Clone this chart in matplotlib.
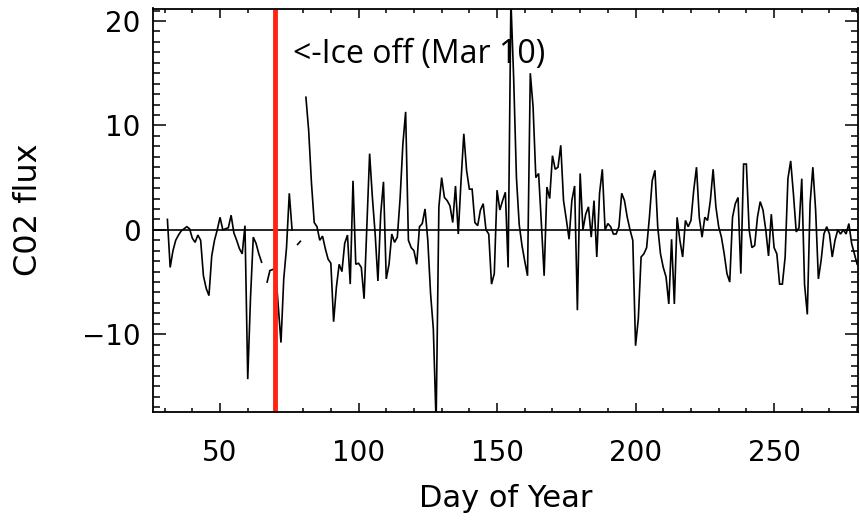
import numpy as np
import matplotlib
matplotlib.use("Agg")
import matplotlib.pyplot as plt
from matplotlib.ticker import MultipleLocator

nan = np.nan
days = np.arange(31, 281)

flux_a = [1.0, -3.6, -2.0, -1.0, -0.5, -0.1, 0.1, 0.3, 0.1, -0.8,
          -1.2, -0.5, -1.0, -4.4, -5.6, -6.3, -2.5, -1.0, 0.0, 1.2,
          0.0, 0.1, 0.2, 1.4, -0.3, -1.0, -1.8, -2.3, 0.4, -14.3,
          -6.5, -0.7, -1.3, -2.3, -3.1, nan, -5.0, -3.9, -3.8, -3.7,
          -7.3, -10.8, -4.7, -1.7, 3.5, 0.0, nan, -1.4, -1.1, nan]
flux_b = [12.7, 9.5, 4.5, 0.7, 0.3, -1.0, -0.6, -1.8, -2.8, -3.2,
          -8.8, -5.5, -3.3, -4.0, -1.3, -0.5, -5.2, 4.7, -3.3, -3.2,
          -3.6, -6.6, 0.3, 7.3, 3.1, -0.4, -4.9, 1.5, 4.6, -4.7,
          -3.3, -0.4, -1.2, -0.7, 3.0, 8.2, 11.3, -1.0, -1.7, -2.0,
          -3.3, 0.3, 0.6, 2.0, -1.0, -6.1, -9.5, -18.5, 2.2, 5.0]
flux_c = [3.1, 2.8, 2.3, 0.7, 4.2, -0.4, 4.7, 9.2, 5.7, 3.9,
          3.9, 0.7, 0.4, 1.9, 2.5, 0.0, -0.4, -5.2, -4.2, 3.8,
          1.9, 2.8, 3.6, -3.6, 22.0, 14.5, 5.0, 0.5, -1.5, -3.0,
          -4.4, 15.0, 11.8, 5.0, 5.4, 0.6, -4.4, 4.1, 3.0, 7.1,
          5.8, 6.0, 8.1, 2.8, 1.0, -0.9, 2.8, 4.2, -7.7, 5.4]
flux_d = [0.0, 1.5, 2.2, -0.7, 2.8, -2.6, 3.5, 5.8, 0.0, 0.6,
          0.3, -0.4, -0.4, 0.3, 3.5, 2.8, 1.2, 0.0, -1.0, -11.1,
          -8.5, -2.6, -2.3, -1.7, 1.2, 4.7, 5.7, 0.3, -2.3, -3.6,
          -4.5, -7.1, -0.9, -7.1, 1.2, -1.0, -2.6, 0.9, 0.3, 0.9,
          3.8, 6.0, 1.2, -0.7, 1.2, 0.9, 2.8, 5.8, 2.2, 0.3]
flux_e = [-0.7, -2.3, -4.2, -5.0, 1.2, 2.5, 3.1, -4.2, 6.3, 6.3,
          0.0, -1.7, -1.5, 1.2, 2.7, 1.9, 0.0, -2.5, 1.5, -1.7,
          -2.3, -5.2, -5.2, -2.6, 4.9, 6.6, 3.4, -0.2, 0.2, 4.9,
          -5.2, -8.1, 2.5, 6.0, 1.9, -4.7, -2.9, -0.4, 0.3, -0.4,
          -2.6, -1.0, 0.0, -0.4, 0.0, -0.4, 0.6, -1.3, -2.3, -3.3]

flux = np.array(flux_a + flux_b + flux_c + flux_d + flux_e, dtype=float)

ice_off_day = 70
xticks = [50, 100, 150, 200, 250]
yticks = [-10, 0, 10, 20]

fig = plt.figure(figsize=(8.6, 5.21), dpi=100)
ax = fig.add_axes([153/860, 1 - 411.5/521, (858 - 153)/860, (411.5 - 8.5)/521])

ax.plot(days, flux, color="black", lw=1.2, solid_joinstyle="miter")
ax.axhline(0, color="black", lw=1.2)
ax.axvline(ice_off_day, color="#ff2414", lw=3.5)

ax.set_xlim(25.8, 280.3)
ax.set_ylim(-17.4, 21.2)
ax.set_xticks(xticks)
ax.set_yticks(yticks)
ax.xaxis.set_minor_locator(MultipleLocator(10))
ax.yaxis.set_minor_locator(MultipleLocator(1))

for s in ax.spines.values():
    s.set_linewidth(1.3)

ax.tick_params(which="both", direction="in", top=True, right=True, width=1.1,
               labelsize=20, colors="black")
ax.tick_params(axis="x", which="major", length=6.5, pad=20)
ax.tick_params(axis="x", which="minor", length=3)
ax.tick_params(axis="y", which="major", length=9.5, pad=9)
ax.tick_params(axis="y", which="minor", length=5)

ax.set_xlabel("Day of Year", fontsize=22, labelpad=12)
ax.set_ylabel("C02 flux", fontsize=23, labelpad=27)

ax.text(76.4, 15.95, "<-Ice off (Mar 10)", family=["Open Sans", "DejaVu Sans"],
        fontsize=23, ha="left", va="baseline", color="black")

fig.savefig("out.png", dpi=100)
